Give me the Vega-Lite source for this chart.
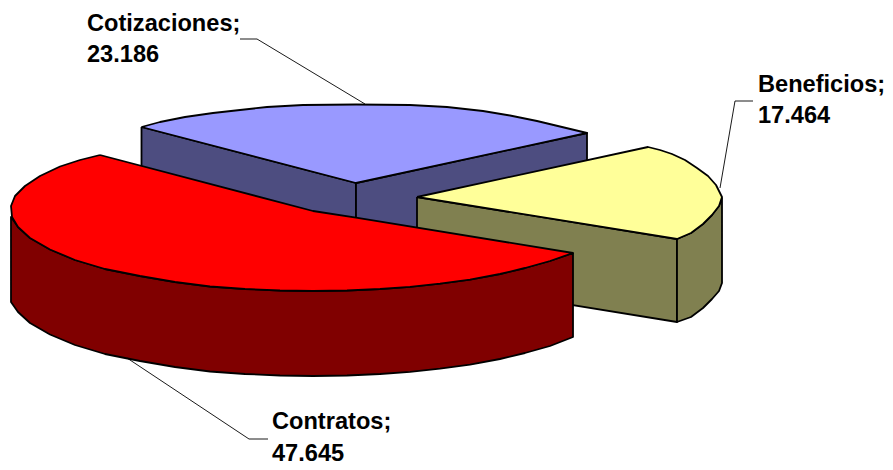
{"$schema":"https://vega.github.io/schema/vega-lite/v6.json","width":893,"height":470,"padding":0,"autosize":{"type":"fit","contains":"padding"},"background":"white","view":{"stroke":null},
"datasets":{
"shapes":[
{"part":"cot_l","x":141.5,"y":127},{"part":"cot_l","x":356,"y":183},{"part":"cot_l","x":356,"y":265},{"part":"cot_l","x":141.5,"y":209},{"part":"cot_l","x":141.5,"y":127},
{"part":"cot_r","x":356,"y":183},{"part":"cot_r","x":587,"y":133},{"part":"cot_r","x":587,"y":215},{"part":"cot_r","x":356,"y":265},{"part":"cot_r","x":356,"y":183},
{"part":"cot_t","x":141.5,"y":127},{"part":"cot_t","x":160,"y":122},{"part":"cot_t","x":185,"y":117},{"part":"cot_t","x":213,"y":113},{"part":"cot_t","x":240,"y":110},{"part":"cot_t","x":267,"y":107},{"part":"cot_t","x":303,"y":105},{"part":"cot_t","x":356,"y":104.5},{"part":"cot_t","x":410,"y":105},{"part":"cot_t","x":447,"y":107},{"part":"cot_t","x":483,"y":111},{"part":"cot_t","x":510,"y":115.5},{"part":"cot_t","x":537,"y":121},{"part":"cot_t","x":562,"y":127},{"part":"cot_t","x":587,"y":133},{"part":"cot_t","x":356,"y":183},{"part":"cot_t","x":141.5,"y":127},
{"part":"ben_l","x":417,"y":197},{"part":"ben_l","x":677,"y":239},{"part":"ben_l","x":677,"y":322},{"part":"ben_l","x":417,"y":280},{"part":"ben_l","x":417,"y":197},
{"part":"ben_r","x":677,"y":239},{"part":"ben_r","x":691,"y":233},{"part":"ben_r","x":703,"y":224},{"part":"ben_r","x":712,"y":215},{"part":"ben_r","x":719,"y":206},{"part":"ben_r","x":722,"y":198},{"part":"ben_r","x":722,"y":283},{"part":"ben_r","x":719,"y":291},{"part":"ben_r","x":712,"y":299},{"part":"ben_r","x":703,"y":308},{"part":"ben_r","x":691,"y":317},{"part":"ben_r","x":677,"y":322},{"part":"ben_r","x":677,"y":239},
{"part":"ben_t","x":417,"y":197},{"part":"ben_t","x":648,"y":147},{"part":"ben_t","x":660,"y":150},{"part":"ben_t","x":672,"y":154},{"part":"ben_t","x":685,"y":160},{"part":"ben_t","x":697,"y":168},{"part":"ben_t","x":708,"y":176},{"part":"ben_t","x":716,"y":185},{"part":"ben_t","x":722,"y":197},{"part":"ben_t","x":719,"y":206},{"part":"ben_t","x":712,"y":215},{"part":"ben_t","x":703,"y":224},{"part":"ben_t","x":691,"y":233},{"part":"ben_t","x":677,"y":239},{"part":"ben_t","x":417,"y":197},
{"part":"con_s","x":573,"y":253},{"part":"con_s","x":550,"y":261},{"part":"con_s","x":525,"y":268},{"part":"con_s","x":500,"y":274},{"part":"con_s","x":470,"y":279.6},{"part":"con_s","x":440,"y":283.7},{"part":"con_s","x":410,"y":286.8},{"part":"con_s","x":380,"y":289},{"part":"con_s","x":347,"y":290.5},{"part":"con_s","x":313,"y":291},{"part":"con_s","x":280,"y":290.5},{"part":"con_s","x":245,"y":289},{"part":"con_s","x":210,"y":286.5},{"part":"con_s","x":175,"y":282},{"part":"con_s","x":140,"y":276},{"part":"con_s","x":105,"y":269},{"part":"con_s","x":75,"y":260},{"part":"con_s","x":50,"y":249.5},{"part":"con_s","x":30,"y":238},{"part":"con_s","x":18,"y":227},{"part":"con_s","x":11,"y":217},
{"part":"con_s","x":11,"y":302},{"part":"con_s","x":18,"y":312},{"part":"con_s","x":30,"y":323},{"part":"con_s","x":50,"y":334.5},{"part":"con_s","x":75,"y":345},{"part":"con_s","x":105,"y":354},{"part":"con_s","x":140,"y":361},{"part":"con_s","x":175,"y":367},{"part":"con_s","x":210,"y":371.5},{"part":"con_s","x":245,"y":374},{"part":"con_s","x":280,"y":375.5},{"part":"con_s","x":313,"y":376},{"part":"con_s","x":347,"y":375.5},{"part":"con_s","x":380,"y":374},{"part":"con_s","x":410,"y":371.8},{"part":"con_s","x":440,"y":368.7},{"part":"con_s","x":470,"y":364.6},{"part":"con_s","x":500,"y":359},{"part":"con_s","x":525,"y":353},{"part":"con_s","x":550,"y":346},{"part":"con_s","x":573,"y":337},{"part":"con_s","x":573,"y":253},
{"part":"con_t","x":100,"y":155},{"part":"con_t","x":313,"y":211},{"part":"con_t","x":356,"y":217.7},{"part":"con_t","x":573,"y":253},{"part":"con_t","x":550,"y":261},{"part":"con_t","x":525,"y":268},{"part":"con_t","x":500,"y":274},{"part":"con_t","x":470,"y":279.6},{"part":"con_t","x":440,"y":283.7},{"part":"con_t","x":410,"y":286.8},{"part":"con_t","x":380,"y":289},{"part":"con_t","x":347,"y":290.5},{"part":"con_t","x":313,"y":291},{"part":"con_t","x":280,"y":290.5},{"part":"con_t","x":245,"y":289},{"part":"con_t","x":210,"y":286.5},{"part":"con_t","x":175,"y":282},{"part":"con_t","x":140,"y":276},{"part":"con_t","x":105,"y":269},{"part":"con_t","x":75,"y":260},{"part":"con_t","x":50,"y":249.5},{"part":"con_t","x":30,"y":238},{"part":"con_t","x":18,"y":227},{"part":"con_t","x":12,"y":217},{"part":"con_t","x":11,"y":206},{"part":"con_t","x":15,"y":196},{"part":"con_t","x":25,"y":186},{"part":"con_t","x":40,"y":176},{"part":"con_t","x":60,"y":166.5},{"part":"con_t","x":80,"y":160},{"part":"con_t","x":100,"y":155}
],
"leaders":[
{"slice":"Cotizaciones","x":240,"y":39},{"slice":"Cotizaciones","x":257,"y":39},{"slice":"Cotizaciones","x":365,"y":104},
{"slice":"Beneficios","x":753,"y":101},{"slice":"Beneficios","x":735,"y":101},{"slice":"Beneficios","x":720,"y":188},
{"slice":"Contratos","x":127,"y":358},{"slice":"Contratos","x":249,"y":439},{"slice":"Contratos","x":268,"y":439}
],
"labels":[
{"text":"Cotizaciones;","x":87,"y":31},{"text":"23.186","x":87,"y":62},
{"text":"Beneficios;","x":758,"y":92},{"text":"17.464","x":758,"y":123},
{"text":"Contratos;","x":272,"y":429},{"text":"47.645","x":272,"y":461}
]},
"data":{"name":"shapes"},
"encoding":{
"x":{"field":"x","type":"quantitative","scale":{"domain":[0,893],"nice":false,"zero":false},"axis":null},
"y":{"field":"y","type":"quantitative","scale":{"domain":[470,0],"nice":false,"zero":false},"axis":null}
},
"layer":[
{"mark":{"type":"line","stroke":"black","strokeWidth":1.8,"strokeJoin":"round","clip":false},
"encoding":{"detail":{"field":"part"},"order":{"value":null},
"fill":{"field":"part","type":"nominal","legend":null,"scale":{"domain":["cot_l","cot_r","cot_t","ben_l","ben_r","ben_t","con_s","con_t"],"range":["#4D4D80","#4D4D80","#9999FF","#808050","#808050","#FFFF99","#800000","#FF0000"]}}}},
{"data":{"name":"leaders"},"mark":{"type":"line","stroke":"black","strokeWidth":0.9},"encoding":{"detail":{"field":"slice"},"order":{"value":null}}},
{"data":{"name":"labels"},"mark":{"type":"text","align":"left","baseline":"alphabetic","font":"Liberation Sans","fontWeight":"bold","fontSize":23.6,"color":"black"},"encoding":{"text":{"field":"text"}}}
]}
